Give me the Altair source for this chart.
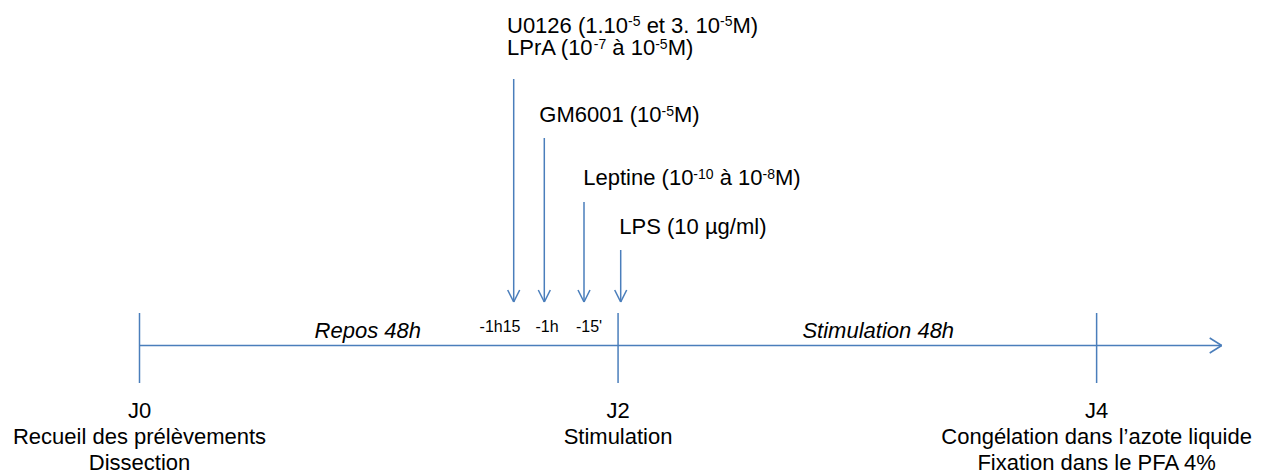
import altair as alt
import pandas as pd

# ---------------- data ----------------
day_labels = ["J0", "J2", "J4"]
day_hours = [0, 48, 96]
day_line1 = ["Recueil des prélèvements", "Stimulation", "Congélation dans l’azote liquide"]
day_line2 = ["Dissection", "", "Fixation dans le PFA 4%"]

phase_labels = ["Repos 48h", "Stimulation 48h"]
phase_hours = [22.9, 74.1]          # schematic centre of each phase

# treatment labels: pieces of (text, is_superscript)
treat_labels = [
    [("U0126 (1.10", 0), ("-5", 1), (" et 3. 10", 0), ("-5", 1), ("M)", 0)],
    [("LPrA (10", 0), ("-7", 1), (" à 10", 0), ("-5", 1), ("M)", 0)],
    [("GM6001 (10", 0), ("-5", 1), ("M)", 0)],
    [("Leptine (10", 0), ("-10", 1), (" à 10", 0), ("-8", 1), ("M)", 0)],
    [("LPS (10 µg/ml)", 0)],
]
time_labels = ["-1h15", "-1h", "-15'"]

# ---------------- layout (schematic) ----------------
PX_PER_H = 9.97
X0 = 139.5                 # page x of J0
def h(px):
    return (px - X0) / PX_PER_H

arrow_h = [h(513.7), h(544.3), h(584.0), h(620.7)]
arrow_top = [79, 138, 202, 250]
arrow_tip = 302
head_w, head_h = 6 / PX_PER_H, 12

treat_h = [h(507), h(507), h(539.3), h(583.3), h(619.3)]
treat_y = [32.7, 55.0, 122, 185, 234]

time_h = [h(500), h(547), h(589)]
time_y = 331.5

axis_y = 345.5
axis_end = h(1221.7)
tick_top, tick_bot = 313, 383
day_y = [418, 444, 470]
phase_y = 338.3

BLUE = "#4a7ebb"
FONT = "Liberation Sans"
MAIN_SIZE, SUP_SIZE, SUP_RAISE = 22, 14, 6.5

# Arial / Liberation Sans advance widths (1/1000 em) for placing superscripts
ADV = {" ": 278, "(": 333, ")": 333, ".": 278, "-": 333, "A": 667, "G": 778,
       "L": 556, "M": 833, "P": 667, "U": 722, "e": 556, "i": 222, "n": 556,
       "p": 556, "r": 333, "t": 278, "à": 556, "µ": 556, "g": 556, "/": 278,
       "m": 833, "l": 222, "S": 667}
def text_w(s, size):
    return sum(ADV.get(c, 556) for c in s) * size / 1000.0

x_scale = alt.Scale(domain=[h(8), h(1261)], nice=False, zero=False)
y_scale = alt.Scale(domain=[8, 473], nice=False, zero=False, reverse=True)

# ---------------- segments ----------------
segs = []
segs.append((0, axis_end, axis_y, axis_y))
segs.append((axis_end - 12 / PX_PER_H, axis_end, axis_y - 7.5, axis_y))
segs.append((axis_end - 12 / PX_PER_H, axis_end, axis_y + 7.5, axis_y))
for d in day_hours:
    segs.append((d, d, tick_top, tick_bot))
for xa, yt in zip(arrow_h, arrow_top):
    segs.append((xa, xa, yt, arrow_tip))
    segs.append((xa - head_w, xa, arrow_tip - head_h, arrow_tip))
    segs.append((xa + head_w, xa, arrow_tip - head_h, arrow_tip))
seg_df = pd.DataFrame(segs, columns=["x", "x2", "y", "y2"])

rules = alt.Chart(seg_df).mark_rule(color=BLUE, strokeWidth=1.5).encode(
    x=alt.X("x:Q", scale=x_scale, axis=None),
    x2="x2:Q",
    y=alt.Y("y:Q", scale=y_scale, axis=None),
    y2="y2:Q",
)

# ---------------- texts ----------------
day_rows = []
for lab, hh, l1, l2 in zip(day_labels, day_hours, day_line1, day_line2):
    for txt, yy in zip([lab, l1, l2], day_y):
        if txt:
            day_rows.append({"x": hh, "y": yy, "t": txt})
day_df = pd.DataFrame(day_rows)

phase_df = pd.DataFrame({"x": phase_hours, "y": [phase_y] * 2, "t": phase_labels})
time_df = pd.DataFrame({"x": time_h, "y": [time_y] * 3, "t": time_labels})

main_rows, sup_rows = [], []
for pieces, x0, y0 in zip(treat_labels, treat_h, treat_y):
    off = 0.0
    for s, sup in pieces:
        size = SUP_SIZE if sup else MAIN_SIZE
        stripped = s.lstrip(" ")
        lead = text_w(s[: len(s) - len(stripped)], size)   # SVG drops leading spaces
        row = {"x": x0 + (off + lead) / PX_PER_H,
               "y": y0 - (SUP_RAISE if sup else 0), "t": stripped}
        (sup_rows if sup else main_rows).append(row)
        off += text_w(s, size)
treat_df = pd.DataFrame(main_rows)
sup_df = pd.DataFrame(sup_rows)

def txt_layer(df, **kw):
    return alt.Chart(df).mark_text(font=FONT, color="#000000", baseline="alphabetic", **kw).encode(
        x=alt.X("x:Q", scale=x_scale, axis=None),
        y=alt.Y("y:Q", scale=y_scale, axis=None),
        text="t:N",
    )

days = txt_layer(day_df, align="center", fontSize=MAIN_SIZE)
phases = txt_layer(phase_df, align="center", fontSize=MAIN_SIZE, fontStyle="italic")
treats = txt_layer(treat_df, align="left", fontSize=MAIN_SIZE)
sups = txt_layer(sup_df, align="left", fontSize=SUP_SIZE)
times = txt_layer(time_df, align="center", fontSize=16)

chart = alt.layer(rules, days, phases, treats, sups, times).properties(
    width=1253, height=465,
    autosize=alt.AutoSizeParams(type="none"),
    padding=0,
).configure_view(stroke=None)

chart.save("out.html", embed_options={"renderer": "svg", "actions": False})
